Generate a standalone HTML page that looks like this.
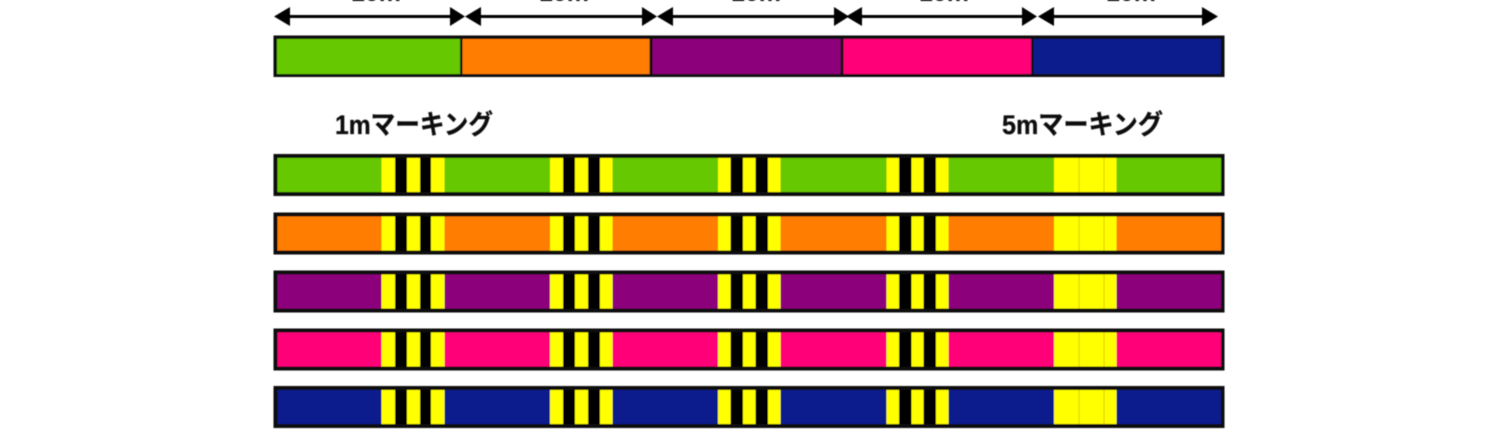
<!DOCTYPE html>
<html lang="ja">
<head>
<meta charset="utf-8">
<title>Marking diagram</title>
<style>
html,body{margin:0;padding:0;background:#fff;width:1500px;height:444px;overflow:hidden}
svg{display:block;position:absolute;left:0;top:0}
text{font-family:"Liberation Sans","Noto Sans CJK JP",sans-serif;font-weight:bold;fill:#111}
</style>
</head>
<body>
<svg width="1500" height="444" viewBox="0 0 1500 444" xmlns="http://www.w3.org/2000/svg">
<defs>
<filter id="b" x="-2%" y="-2%" width="104%" height="104%"><feGaussianBlur stdDeviation="0.6"/></filter>
<g id="m">
<rect x="381.5" y="0" width="13.5" height="34" fill="#ffff00"/><rect x="395" y="0" width="12" height="34" fill="#050505"/>
<rect x="407" y="0" width="13" height="34" fill="#ffff00"/><rect x="420" y="0" width="11" height="34" fill="#050505"/>
<rect x="431" y="0" width="13.5" height="34" fill="#ffff00"/>
<rect x="550" y="0" width="13" height="34" fill="#ffff00"/><rect x="563" y="0" width="12" height="34" fill="#050505"/>
<rect x="575" y="0" width="13" height="34" fill="#ffff00"/><rect x="588" y="0" width="12" height="34" fill="#050505"/>
<rect x="600" y="0" width="12.5" height="34" fill="#ffff00"/>
<rect x="718" y="0" width="12.5" height="34" fill="#ffff00"/><rect x="730.5" y="0" width="12.5" height="34" fill="#050505"/>
<rect x="743" y="0" width="12.5" height="34" fill="#ffff00"/><rect x="755.5" y="0" width="12.5" height="34" fill="#050505"/>
<rect x="768" y="0" width="12.5" height="34" fill="#ffff00"/>
<rect x="886.5" y="0" width="12.5" height="34" fill="#ffff00"/><rect x="899" y="0" width="12.5" height="34" fill="#050505"/>
<rect x="911.5" y="0" width="12" height="34" fill="#ffff00"/><rect x="923.5" y="0" width="12.5" height="34" fill="#050505"/>
<rect x="936" y="0" width="12.5" height="34" fill="#ffff00"/>
<rect x="1054" y="0" width="62.5" height="34" fill="#ffff00"/>
<rect x="1078.7" y="0" width="0.8" height="34" fill="#d8c000"/><rect x="1103.7" y="0" width="0.8" height="34" fill="#d8c000"/>
</g>
</defs>
<g filter="url(#b)">
<!-- top labels -->
<g font-size="25" text-anchor="middle">
<text x="376" y="1">10m</text>
<text x="564" y="1">10m</text>
<text x="756" y="1">10m</text>
<text x="944" y="1">10m</text>
<text x="1131" y="1">10m</text>
</g>
<!-- arrows -->
<g fill="#050505">
<rect x="285" y="15" width="170" height="3"/>
<rect x="475" y="15" width="170" height="3"/>
<rect x="668" y="15" width="170" height="3"/>
<rect x="857" y="15" width="170" height="3"/>
<rect x="1048" y="15" width="158" height="3"/>
<polygon points="274,16.5 290,7 290,26"/>
<polygon points="465,16.5 450,7 450,26"/>
<polygon points="465,16.5 481,7 481,26"/>
<polygon points="657,16.5 642,7 642,26"/>
<polygon points="657,16.5 673,7 673,26"/>
<polygon points="849,16.5 834,7 834,26"/>
<polygon points="846,16.5 862,7 862,26"/>
<polygon points="1037,16.5 1022,7 1022,26"/>
<polygon points="1038,16.5 1054,7 1054,26"/>
<polygon points="1218,16.5 1202,7 1202,26"/>
</g>
<!-- top bar -->
<rect x="273.5" y="35.5" width="951" height="41.5" fill="#0a0a0a"/>
<rect x="277" y="39" width="183" height="35" fill="#66c800"/>
<rect x="462.5" y="39" width="187" height="35" fill="#ff7d00"/>
<rect x="652.5" y="39" width="188" height="35" fill="#8c007c"/>
<rect x="843.5" y="39" width="187.5" height="35" fill="#ff0078"/>
<rect x="1033.5" y="39" width="187.5" height="35" fill="#0a1e8c"/>
<!-- headings -->
<text x="335" y="134" font-size="27" stroke="#111" stroke-width="0.3" textLength="158" lengthAdjust="spacingAndGlyphs">1mマーキング</text>
<text x="1002" y="134" font-size="27" stroke="#111" stroke-width="0.3" textLength="161" lengthAdjust="spacingAndGlyphs">5mマーキング</text>
<!-- rows -->
<rect x="273.5" y="154" width="951" height="42" fill="#0a0a0a"/>
<rect x="277.5" y="158" width="943.5" height="34" fill="#66c800"/>
<use href="#m" y="158"/>
<rect x="273.5" y="212.5" width="951" height="42" fill="#0a0a0a"/>
<rect x="277.5" y="216.5" width="943.5" height="34" fill="#ff7d00"/>
<use href="#m" y="216.5"/>
<rect x="273.5" y="270.5" width="951" height="42" fill="#0a0a0a"/>
<rect x="277.5" y="274.5" width="943.5" height="34" fill="#8c007c"/>
<use href="#m" y="274.5"/>
<rect x="273.5" y="328.5" width="951" height="42" fill="#0a0a0a"/>
<rect x="277.5" y="332.5" width="943.5" height="34" fill="#ff0078"/>
<use href="#m" y="332.5"/>
<rect x="273.5" y="386" width="951" height="42" fill="#0a0a0a"/>
<rect x="277.5" y="390" width="943.5" height="34" fill="#0a1e8c"/>
<use href="#m" y="390"/>
</g>
</svg>
</body>
</html>
